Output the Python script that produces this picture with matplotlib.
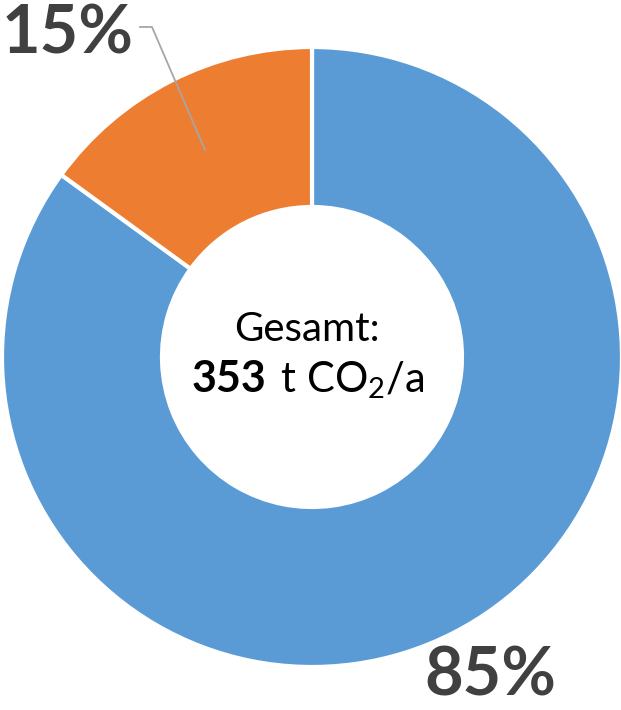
import matplotlib
matplotlib.use("Agg")
import matplotlib.pyplot as plt

plt.rcParams['font.family'] = ['Lato', 'DejaVu Sans']
plt.rcParams['mathtext.fontset'] = 'custom'
plt.rcParams['mathtext.rm'] = 'Lato'
plt.rcParams['mathtext.it'] = 'Lato:italic'
plt.rcParams['mathtext.bf'] = 'Lato:bold'

categories = ["Anteil A", "Anteil B"]
values = [85, 15]
labels = ["85%", "15%"]
colors = ["#5B9BD5", "#ED7D31"]
total_value = "353"
total_unit = r" t CO$_2$/a"
total_title = "Gesamt:"

W, H = 621, 710
fig = plt.figure(figsize=(W / 100, H / 100), dpi=100)
ax = fig.add_axes([0, 0, 1, 1])
ax.set_xlim(0, W)
ax.set_ylim(0, H)
ax.set_aspect('equal')
ax.axis('off')

cx, cy = 312, H - 357
R = 310
ax.pie(values, colors=colors, startangle=90, counterclock=False,
       center=(cx, cy), radius=R, frame=True,
       wedgeprops=dict(width=160, edgecolor='white', linewidth=3))
ax.set_xlim(0, W)
ax.set_ylim(0, H)
ax.axis('off')

txt = '#404040'
ax.text(490, H - 696, labels[0], fontsize=48, fontweight='bold', color=txt,
        ha='center', va='baseline')
ax.text(68, H - 53, labels[1], fontsize=48, fontweight='bold', color=txt,
        ha='center', va='baseline')
ax.plot([140, 152, 205], [H - 27, H - 27, H - 150], color='#A6A6A6', lw=1.3)

ax.text(307, H - 341, total_title, fontsize=29, color='black',
        ha='center', va='baseline')
ax.text(266, H - 392, total_value, fontsize=31, fontweight='bold', color='black',
        ha='right', va='baseline')
ax.text(270, H - 392, total_unit, fontsize=30, color='black',
        ha='left', va='baseline')

fig.savefig("out.png", dpi=100)
